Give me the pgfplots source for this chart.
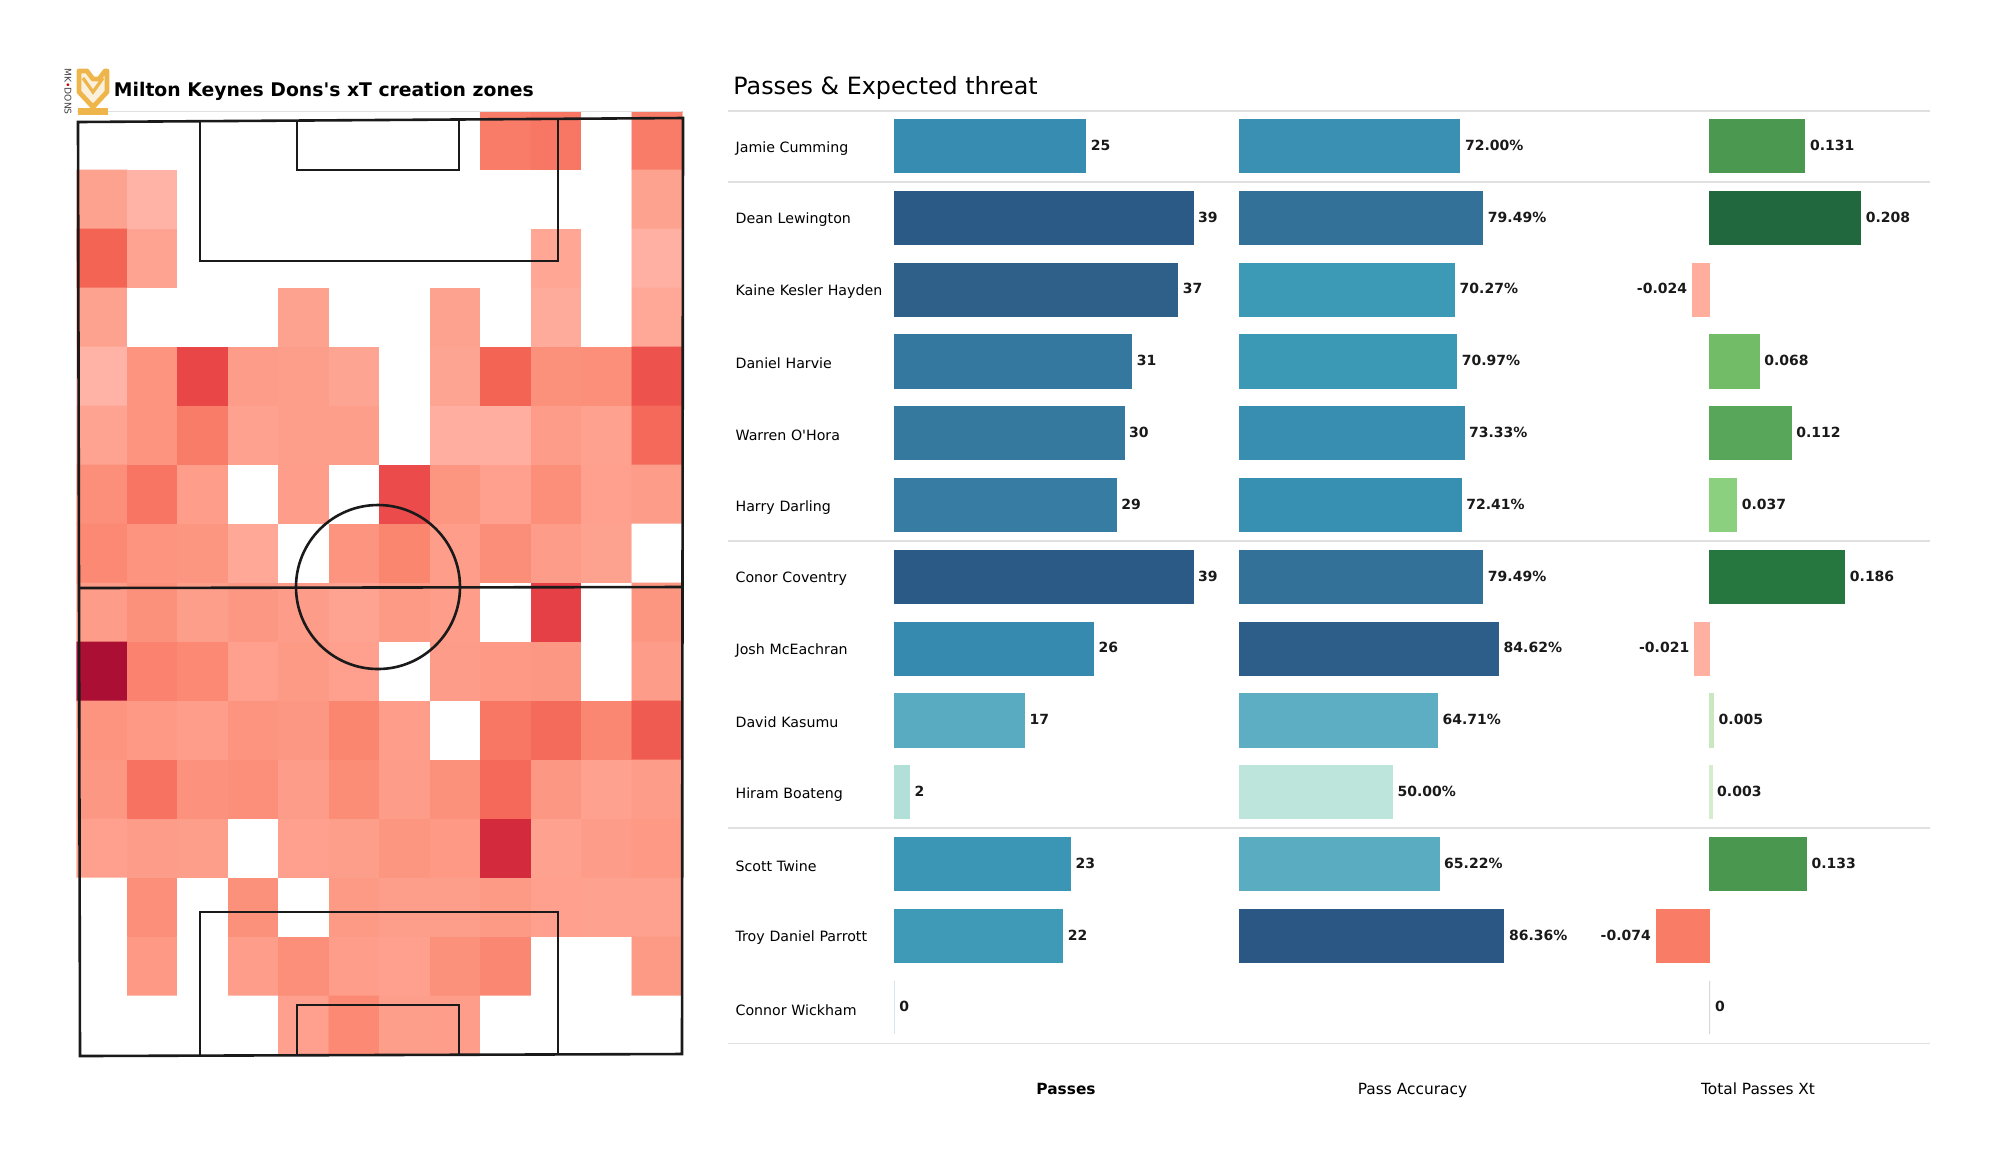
\documentclass[border=0pt]{standalone}
\usepackage{fontspec}
\setmainfont{DejaVu Sans}[Ligatures=TeXOff]
\usepackage{pgfplots}
\pgfplotsset{compat=1.18}
\newcommand\fs[1]{\fontsize{#1}{#1}\selectfont}
\pgfplotsset{
  colormap={heat}{rgb255(0)=(255,255,255) rgb255(1)=(255,184,172) rgb255(2)=(255,168,152) rgb255(3)=(253,156,136) rgb255(4)=(251,140,118) rgb255(5)=(249,124,104) rgb255(6)=(243,100,85) rgb255(7)=(233,70,72) rgb255(8)=(212,42,61) rgb255(9)=(171,15,52)},
  barpanel/.style={scale only axis, height=466.7pt, anchor=north west, y dir=reverse,
    ymin=-0.5, ymax=12.5, xtick=\empty, ytick=\empty, clip=false,
    axis line style={draw=none}, major tick length=0pt,
    every axis x label/.style={at={(axis description cs:0.5,0)},anchor=base,yshift=-25.75pt,font=\fs{7.7}},
    yticklabel style={font=\fs{7.1},text width=79pt,align=left,inner sep=0pt,yshift=-1.1pt},
    every node near coord/.append style={font=\bfseries\fs{7},inner xsep=2.5pt,inner ysep=0pt,text=black!90,yshift=0.4pt}}
}
\newcommand\hb[6]{\addplot[xbar,bar shift=0pt,bar width=26.6pt,fill={rgb,255:red,#1;green,#2;blue,#3},draw={rgb,255:red,#1;green,#2;blue,#3},line width=0.3pt,forget plot,point meta=explicit symbolic,nodes near coords,every node near coord/.append style={anchor=west}] coordinates {(#4,#5) [#6]};}
\newcommand\hn[6]{\addplot[xbar,bar shift=0pt,bar width=26.6pt,fill={rgb,255:red,#1;green,#2;blue,#3},draw={rgb,255:red,#1;green,#2;blue,#3},line width=0.3pt,forget plot,point meta=explicit symbolic,nodes near coords,every node near coord/.append style={anchor=east}] coordinates {(#4,#5) [#6]};}
\definecolor{sep}{HTML}{E0E0E0}
\definecolor{pl}{HTML}{1A1A1A}
\definecolor{gold}{HTML}{EDB54A}
\begin{document}
\begin{tikzpicture}[x=0.5pt,y=-0.5pt]
\useasboundingbox (0,0) rectangle (2000,1175);
% heat map
\begin{axis}[at={(38.25pt,-55.5pt)},anchor=north west,scale only axis,width=302.95pt,height=472pt,
  hide axis,xmin=0,xmax=12,ymin=0,ymax=16,y dir=reverse,colormap name=heat,point meta min=0,point meta max=9]
\addplot[matrix plot*,mesh/cols=12,point meta=explicit] table[row sep=\\,meta=c]{
x y c\\
0.5 0.5 0\\1.5 0.5 0\\2.5 0.5 0\\3.5 0.5 0\\4.5 0.5 0\\5.5 0.5 0\\6.5 0.5 0\\7.5 0.5 0\\8.5 0.5 5\\9.5 0.5 5.2\\10.5 0.5 0\\11.5 0.5 5\\
0.5 1.5 2.5\\1.5 1.5 1.3\\2.5 1.5 0\\3.5 1.5 0\\4.5 1.5 0\\5.5 1.5 0\\6.5 1.5 0\\7.5 1.5 0\\8.5 1.5 0\\9.5 1.5 0\\10.5 1.5 0\\11.5 1.5 2.5\\
0.5 2.5 6\\1.5 2.5 2.4\\2.5 2.5 0\\3.5 2.5 0\\4.5 2.5 0\\5.5 2.5 0\\6.5 2.5 0\\7.5 2.5 0\\8.5 2.5 0\\9.5 2.5 2.2\\10.5 2.5 0\\11.5 2.5 1.5\\
0.5 3.5 2.5\\1.5 3.5 0\\2.5 3.5 0\\3.5 3.5 0\\4.5 3.5 2.5\\5.5 3.5 0\\6.5 3.5 0\\7.5 3.5 2.5\\8.5 3.5 0\\9.5 3.5 1.8\\10.5 3.5 0\\11.5 3.5 2\\
0.5 4.5 1.3\\1.5 4.5 3.5\\2.5 4.5 7\\3.5 4.5 3\\4.5 4.5 2.8\\5.5 4.5 2.3\\6.5 4.5 0\\7.5 4.5 2.3\\8.5 4.5 6\\9.5 4.5 3.7\\10.5 4.5 3.8\\11.5 4.5 6.6\\
0.5 5.5 2.4\\1.5 5.5 3.5\\2.5 5.5 5\\3.5 5.5 2.6\\4.5 5.5 2.8\\5.5 5.5 2.8\\6.5 5.5 0\\7.5 5.5 1.6\\8.5 5.5 1.6\\9.5 5.5 3\\10.5 5.5 2.6\\11.5 5.5 5.8\\
0.5 6.5 3.8\\1.5 6.5 5.3\\2.5 6.5 2.9\\3.5 6.5 0\\4.5 6.5 2.9\\5.5 6.5 0\\6.5 6.5 6.8\\7.5 6.5 3.4\\8.5 6.5 2.7\\9.5 6.5 3.8\\10.5 6.5 2.7\\11.5 6.5 3\\
0.5 7.5 4.2\\1.5 7.5 3.5\\2.5 7.5 3.4\\3.5 7.5 2\\4.5 7.5 0\\5.5 7.5 3.5\\6.5 7.5 4.4\\7.5 7.5 2.9\\8.5 7.5 3.9\\9.5 7.5 3\\10.5 7.5 2.5\\11.5 7.5 0\\
0.5 8.5 3\\1.5 8.5 3.7\\2.5 8.5 2.8\\3.5 8.5 3.3\\4.5 8.5 3\\5.5 8.5 2.4\\6.5 8.5 3.1\\7.5 8.5 2.9\\8.5 8.5 0\\9.5 8.5 7.2\\10.5 8.5 0\\11.5 8.5 3.4\\
0.5 9.5 9\\1.5 9.5 4.6\\2.5 9.5 4.2\\3.5 9.5 2.7\\4.5 9.5 3.1\\5.5 9.5 2.7\\6.5 9.5 0\\7.5 9.5 3\\8.5 9.5 3.2\\9.5 9.5 3.3\\10.5 9.5 0\\11.5 9.5 3\\
0.5 10.5 3.5\\1.5 10.5 3.2\\2.5 10.5 2.9\\3.5 10.5 3.5\\4.5 10.5 3.3\\5.5 10.5 4.4\\6.5 10.5 2.9\\7.5 10.5 0\\8.5 10.5 5.2\\9.5 10.5 5.7\\10.5 10.5 4.3\\11.5 10.5 6.3\\
0.5 11.5 3.3\\1.5 11.5 5.4\\2.5 11.5 3.6\\3.5 11.5 3.8\\4.5 11.5 3\\5.5 11.5 4\\6.5 11.5 3\\7.5 11.5 3.7\\8.5 11.5 5.8\\9.5 11.5 3.3\\10.5 11.5 2.6\\11.5 11.5 3\\
0.5 12.5 2.7\\1.5 12.5 3\\2.5 12.5 2.8\\3.5 12.5 0\\4.5 12.5 2.7\\5.5 12.5 2.8\\6.5 12.5 3.4\\7.5 12.5 3.2\\8.5 12.5 8\\9.5 12.5 2.6\\10.5 12.5 3\\11.5 12.5 3.2\\
0.5 13.5 0\\1.5 13.5 3.8\\2.5 13.5 0\\3.5 13.5 3.7\\4.5 13.5 0\\5.5 13.5 3.1\\6.5 13.5 2.8\\7.5 13.5 2.8\\8.5 13.5 3.1\\9.5 13.5 2.7\\10.5 13.5 2.6\\11.5 13.5 2.6\\
0.5 14.5 0\\1.5 14.5 3.2\\2.5 14.5 0\\3.5 14.5 2.9\\4.5 14.5 3.8\\5.5 14.5 2.9\\6.5 14.5 2.7\\7.5 14.5 3.7\\8.5 14.5 4.3\\9.5 14.5 0\\10.5 14.5 0\\11.5 14.5 3.1\\
0.5 15.5 0\\1.5 15.5 0\\2.5 15.5 0\\3.5 15.5 0\\4.5 15.5 2.7\\5.5 15.5 4.2\\6.5 15.5 2.8\\7.5 15.5 2.9\\8.5 15.5 0\\9.5 15.5 0\\10.5 15.5 0\\11.5 15.5 0\\
};
\end{axis}
% pitch
\draw[sep,line width=0.4pt] (77,111)--(682,111);
\begin{scope}[draw=pl,line width=1.3pt]
\draw (78,122)--(683,118)--(682,1054)--(80,1056)--cycle;
\draw (78,588)--(683,587);
\draw (200,121)--(200,261)--(558,261)--(558,119);
\draw (297,120)--(297,170)--(459,170)--(459,119);
\draw (200,1056)--(200,912)--(558,912)--(558,1055);
\draw (297,1056)--(297,1005)--(459,1005)--(459,1055);
\draw (378,587) ellipse [x radius=82,y radius=82];
\end{scope}
% logo
\draw[gold,line width=2.4pt,line join=round,fill=gold!20] (79,71)--(87,71)--(93,79)--(99,79)--(105,71)--(107,71)--(107,92)--(93,107)--(79,92)--cycle;
\draw[gold,line width=1.6pt] (83,78)--(93,92)--(103,78);
\fill[gold] (78,108)--(108,108)--(108,115)--(78,115)--cycle;
\draw[gold,line width=2pt] (93,103)--(93,110);
\node[rotate=-90,font=\fs{4.6},inner sep=0pt,text=black!75] at (68,91.5) {MK\textcolor{red!80!black}{\textbullet}DONS};
% titles
\node[anchor=west,inner sep=0pt,font=\bfseries\fs{9.4}] at (113.5,91) {Milton Keynes Dons's xT creation zones};
\node[anchor=west,inner sep=0pt,font=\fs{11.9}] at (733,87.5) {Passes \& Expected threat};
% separators
\foreach \y in {111,182,541,828,1043.5} \draw[sep,line width=0.9pt] (728,\y)--(1930,\y);
% passes
\begin{axis}[barpanel,at={(447pt,-55pt)},width=172pt,xmin=0,xmax=44.9,xlabel={\bfseries Passes},
  ytick={0,...,12},yticklabels={Jamie Cumming,Dean Lewington,Kaine Kesler Hayden,Daniel Harvie,Warren O'Hora,Harry Darling,Conor Coventry,Josh McEachran,David Kasumu,Hiram Boateng,Scott Twine,Troy Daniel Parrott,Connor Wickham}]
\hb{54}{141}{177}{25}{0}{25}
\hb{44}{90}{135}{39}{1}{39}
\hb{46}{96}{137}{37}{2}{37}
\hb{53}{120}{159}{31}{3}{31}
\hb{54}{121}{159}{30}{4}{30}
\hb{54}{124}{163}{29}{5}{29}
\hb{44}{90}{135}{39}{6}{39}
\hb{54}{138}{175}{26}{7}{26}
\hb{88}{171}{193}{17}{8}{17}
\hb{178}{223}{216}{2}{9}{2}
\hb{59}{150}{181}{23}{10}{23}
\hb{63}{154}{183}{22}{11}{22}
\hb{215}{228}{235}{0}{12}{0}
\end{axis}
% accuracy
\begin{axis}[barpanel,at={(619.5pt,-55pt)},width=173.5pt,xmin=0,xmax=113.2,xlabel={Pass Accuracy}]
\hb{57}{144}{178}{72.00}{0}{72.00\%}
\hb{51}{113}{153}{79.49}{1}{79.49\%}
\hb{61}{154}{182}{70.27}{2}{70.27\%}
\hb{60}{153}{181}{70.97}{3}{70.97\%}
\hb{55}{142}{177}{73.33}{4}{73.33\%}
\hb{55}{143}{178}{72.41}{5}{72.41\%}
\hb{51}{113}{153}{79.49}{6}{79.49\%}
\hb{45}{94}{138}{84.62}{7}{84.62\%}
\hb{93}{174}{194}{64.71}{8}{64.71\%}
\hb{189}{229}{219}{50.00}{9}{50.00\%}
\hb{90}{173}{193}{65.22}{10}{65.22\%}
\hb{43}{87}{133}{86.36}{11}{86.36\%}
\end{axis}
% xT
\begin{axis}[barpanel,at={(825pt,-55pt)},width=108pt,xmin=-0.0824,xmax=0.2155,xlabel={Total Passes Xt}]
\hb{75}{153}{80}{0.131}{0}{0.131}
\hb{34}{104}{63}{0.208}{1}{0.208}
\hn{255}{173}{156}{-0.024}{2}{-0.024}
\hb{114}{188}{104}{0.068}{3}{0.068}
\hb{88}{166}{90}{0.112}{4}{0.112}
\hb{139}{208}{127}{0.037}{5}{0.037}
\hb{37}{119}{63}{0.186}{6}{0.186}
\hn{255}{176}{160}{-0.021}{7}{-0.021}
\hb{201}{232}{192}{0.005}{8}{0.005}
\hb{212}{237}{207}{0.003}{9}{0.003}
\hb{74}{152}{80}{0.133}{10}{0.133}
\hn{249}{124}{102}{-0.074}{11}{-0.074}
\hb{215}{215}{215}{0}{12}{0}
\end{axis}
\end{tikzpicture}
\end{document}
